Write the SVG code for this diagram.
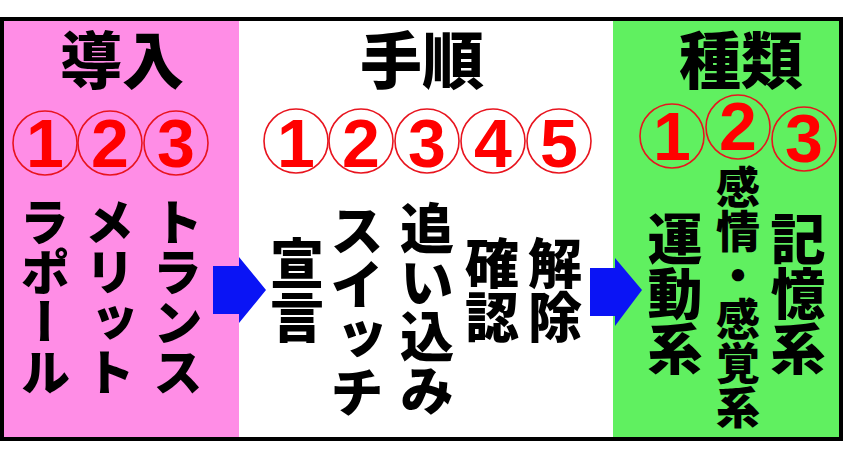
<svg xmlns="http://www.w3.org/2000/svg" width="845" height="458" viewBox="0 0 845 458">
<style>
.h{font-family:"Noto Sans CJK JP","Noto Sans CJK SC",sans-serif;font-weight:900;fill:#000;text-anchor:middle}
.v{font-family:"Noto Sans CJK JP","Noto Sans CJK SC",sans-serif;font-weight:900;fill:#000;writing-mode:vertical-rl;text-anchor:start}
.c{fill:none;stroke:#E8141E;stroke-width:1.6}
.n{font-family:"Liberation Sans",Arial,sans-serif;font-weight:bold;font-size:68px;fill:#FF0000;text-anchor:middle}
.ar{fill:#0A14F5}
</style>
<rect x="0" y="0" width="845" height="458" fill="#fff"/>
<g id="panel-intro">
<rect x="4" y="21" width="235" height="417" fill="#FF8DE6"/>
<text class="h" x="122" y="84" font-size="62">導入</text>
<circle class="c" cx="45" cy="143" r="32"/><text class="n" x="45" y="167">1</text>
<circle class="c" cx="110" cy="143" r="32"/><text class="n" x="110" y="167">2</text>
<circle class="c" cx="176" cy="143" r="32"/><text class="n" x="176" y="167">3</text>
<text class="v" x="45" y="197" font-size="50">ラポール</text>
<text class="v" x="110" y="197" font-size="50">メリット</text>
<text class="v" x="178" y="197" font-size="50">トランス</text>
</g>
<g id="panel-steps">
<rect x="239" y="21" width="374" height="417" fill="#fff"/>
<text class="h" x="422" y="84" font-size="62">手順</text>
<circle class="c" cx="296" cy="141" r="32"/><text class="n" x="296" y="167">1</text>
<circle class="c" cx="361" cy="141" r="32"/><text class="n" x="361" y="167">2</text>
<circle class="c" cx="427" cy="141" r="32"/><text class="n" x="427" y="167">3</text>
<circle class="c" cx="493" cy="141" r="32"/><text class="n" x="493" y="167">4</text>
<circle class="c" cx="559" cy="141" r="32"/><text class="n" x="559" y="167">5</text>
<text class="v" x="297" y="236" font-size="54">宣言</text>
<text class="v" x="357" y="203" font-size="54">スイッチ</text>
<text class="v" x="427" y="201" font-size="54">追い込み</text>
<text class="v" x="492" y="236" font-size="54">確認</text>
<text class="v" x="555" y="236" font-size="54">解除</text>
</g>
<g id="panel-types">
<rect x="613" y="21" width="227" height="417" fill="#60F060"/>
<text class="h" x="741" y="84" font-size="62">種類</text>
<circle class="c" cx="672" cy="136" r="32"/><text class="n" x="672" y="160">1</text>
<circle class="c" cx="738" cy="127" r="32"/><text class="n" x="738" y="150">2</text>
<circle class="c" cx="804" cy="139" r="32"/><text class="n" x="804" y="162">3</text>
<text class="v" x="675" y="211" font-size="55">運動系</text>
<text class="v" x="738" y="165" font-size="44">感情・感覚系</text>
<text class="v" x="798" y="211" font-size="55">記憶系</text>
</g>
<g id="connectors">
<path class="ar" d="M213,266 H239 V257 L266,290 L239,323 V314 H213 Z"/>
<path class="ar" d="M590,268 H615 V258 L642,290 L615,326 V316 H590 Z"/>
</g>
<rect x="2" y="19" width="839" height="420" fill="none" stroke="#000" stroke-width="4"/>
</svg>
